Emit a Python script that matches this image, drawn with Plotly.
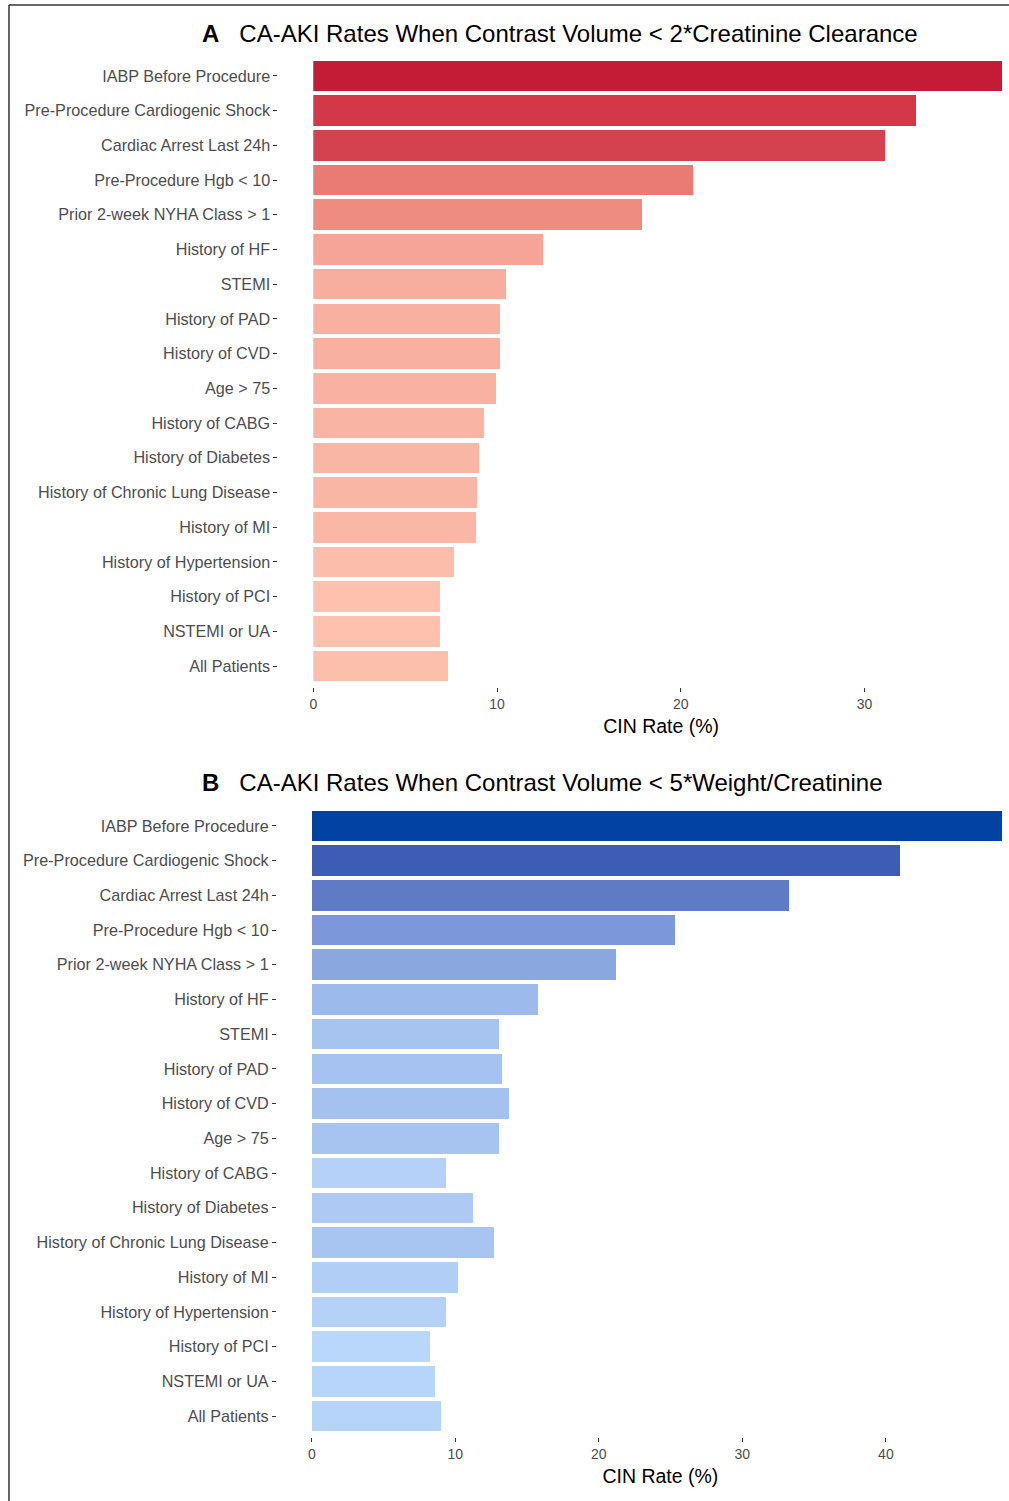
import plotly.graph_objects as go

categories = [
    "IABP Before Procedure", "Pre-Procedure Cardiogenic Shock", "Cardiac Arrest Last 24h",
    "Pre-Procedure Hgb < 10", "Prior 2-week NYHA Class > 1", "History of HF", "STEMI",
    "History of PAD", "History of CVD", "Age > 75", "History of CABG", "History of Diabetes",
    "History of Chronic Lung Disease", "History of MI", "History of Hypertension",
    "History of PCI", "NSTEMI or UA", "All Patients",
]
rates_a = [37.5, 32.8, 31.1, 20.7, 17.9, 12.5, 10.5, 10.15, 10.15, 9.95, 9.3, 9.05,
           8.9, 8.85, 7.65, 6.9, 6.9, 7.35]
rates_b = [48.05, 41.0, 33.2, 25.3, 21.2, 15.75, 13.05, 13.25, 13.75, 13.05, 9.35, 11.25,
           12.7, 10.2, 9.35, 8.2, 8.6, 9.0]
title_a = "CA-AKI Rates When Contrast Volume < 2*Creatinine Clearance"
title_b = "CA-AKI Rates When Contrast Volume < 5*Weight/Creatinine"
ticks_a = [0, 10, 20, 30]
ticks_b = [0, 10, 20, 30, 40]
x_title = "CIN Rate (%)"

red_scale = [[0, "#fdc1ad"], [0.18, "#f5a497"], [0.36, "#ef8c80"], [0.45, "#e97b74"],
             [0.79, "#d5424f"], [0.85, "#d23748"], [1, "#c41c36"]]
blue_scale = [[0, "#b9d6fb"], [0.12, "#a7c3f0"], [0.19, "#9dbaec"], [0.326, "#8ba7e0"],
              [0.43, "#7c97da"], [0.627, "#5f7bc6"], [0.823, "#3d5db4"], [1, "#0043a0"]]

W, H = 1009, 1501
FONT = "Liberation Sans, Arial, sans-serif"

def py(px):
    return 1 - px / H

def pxx(px):
    return px / W

fig = go.Figure()
fig.add_trace(go.Bar(
    x=rates_a, y=categories, orientation="h", width=0.88,
    marker=dict(color=rates_a, colorscale=red_scale,
                cmin=min(rates_a), cmax=max(rates_a), line=dict(width=0)),
    xaxis="x", yaxis="y", showlegend=False,
))
fig.add_trace(go.Bar(
    x=rates_b, y=categories, orientation="h", width=0.88,
    marker=dict(color=rates_b, colorscale=blue_scale,
                cmin=min(rates_b), cmax=max(rates_b), line=dict(width=0)),
    xaxis="x2", yaxis="y2", showlegend=False,
))

cat_order = list(reversed(categories))
ax_common = dict(showgrid=False, zeroline=False, showline=False,
                 ticks="outside", ticklen=4, tickwidth=1, tickcolor="#333333",
                 tickfont=dict(family=FONT, size=14, color="#4d4d4d"))
yax_common = dict(ax_common, type="category", categoryorder="array",
                  categoryarray=cat_order, range=[-0.6, 17.6], anchor="free")
yax_common["tickfont"] = dict(family=FONT, size=16.2, color="#4d4d4d")

xt_font = dict(family=FONT, size=19.5, color="black")
a0, sa = 310.5, 18.45
b0, sb = 309.0, 14.41
fig.update_layout(
    width=W, height=H, margin=dict(l=0, r=0, t=0, b=0),
    paper_bgcolor="white", plot_bgcolor="white", bargap=0,
    xaxis=dict(ax_common, domain=[pxx(a0), 1], range=[0, (W - a0) / sa],
               tickvals=ticks_a, anchor="y",
               title=dict(text=x_title, font=xt_font, standoff=8)),
    yaxis=dict(yax_common, domain=[py(687), py(55)], position=pxx(274.5)),
    xaxis2=dict(ax_common, domain=[pxx(b0), 1], range=[0, (W - b0) / sb],
                tickvals=ticks_b, anchor="y2",
                title=dict(text=x_title, font=xt_font, standoff=8)),
    yaxis2=dict(yax_common, domain=[py(1437), py(805)], position=pxx(273)),
)

for label, text, ypix in [("A", title_a, 33), ("B", title_b, 782)]:
    fig.add_annotation(
        x=pxx(197), y=py(ypix), xref="paper", yref="paper", xanchor="left", yanchor="middle",
        text="<b>" + label + "</b>&nbsp;&nbsp;&nbsp;" + text, showarrow=False,
        font=dict(family=FONT, size=24, color="black"),
    )

fig.add_shape(type="line", xref="paper", yref="paper", x0=pxx(5), x1=1.01, y0=py(5), y1=py(5),
              line=dict(color="#333333", width=1.5))
fig.add_shape(type="line", xref="paper", yref="paper", x0=pxx(5), x1=pxx(5), y0=py(5), y1=-0.01,
              line=dict(color="#333333", width=1.5))

fig.write_html("out.html")
